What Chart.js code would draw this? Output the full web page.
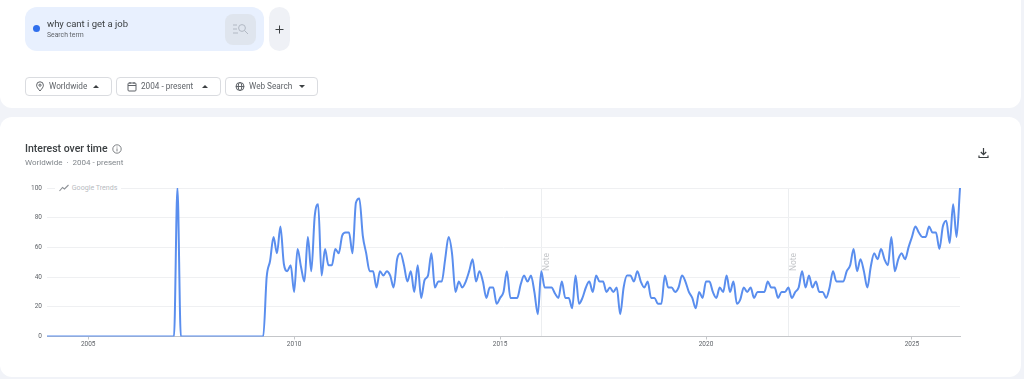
<!DOCTYPE html>
<html><head><meta charset="utf-8">
<script src="https://cdn.jsdelivr.net/npm/chart.js@4"></script>
<style>
html,body{margin:0;padding:0;width:1024px;height:379px;overflow:hidden;background:#f1f3f8;font-family:Roboto,"Noto Sans",sans-serif;color:#3c4043}
#page{position:absolute;left:0;top:0;width:1024px;height:379px;filter:blur(0.45px)}
.abs{position:absolute;white-space:nowrap}
.card{position:absolute;left:0;width:1021px;background:#fff}
.btn{position:absolute;top:77px;height:17px;background:#fff;border:1px solid #dadce0;border-radius:4px;font-size:8.2px;line-height:17px;color:#5f6368;box-sizing:content-box}
.btn svg{position:absolute;top:3px}
.btn span{position:absolute;top:0}
.tri{position:absolute;top:7px;width:0;height:0;border-left:3px solid transparent;border-right:3px solid transparent}
.up{border-bottom:3px solid #3c4043}.down{border-top:3px solid #3c4043}
#wrap{position:absolute;left:0;top:170px;width:1024px;height:185px}
</style></head><body><div id="page">
<div class="card" style="top:0;height:108px;border-radius:0 0 12px 12px"></div>
<div class="card" style="top:117px;height:260px;border-radius:12px"></div>

<div class="abs" style="left:25px;top:7px;width:239px;height:44px;background:#e8f0fe;border-radius:12px"></div>
<div class="abs" style="left:33px;top:25px;width:7px;height:7px;border-radius:50%;background:#2f6fed"></div>
<div class="abs" style="left:47px;top:18px;font-size:9.5px;line-height:12px;color:#3c4043">why cant i get a job</div>
<div class="abs" style="left:47px;top:30px;font-size:6.8px;line-height:10px;color:#5f6368">Search term</div>
<div class="abs" style="left:225px;top:14px;width:31px;height:31px;border-radius:8px;background:#dfe5ee"></div>
<svg class="abs" style="left:232px;top:23px" width="18" height="13" viewBox="0 0 18 13" fill="none" stroke="#b2b9c4" stroke-width="1"><path d="M1 2h4M1 6h4M1 10h5"/><circle cx="10" cy="5" r="3.4"/><path d="M12.5 7.5l3.5 3.5"/></svg>
<div class="abs" style="left:269px;top:7px;width:21px;height:44px;background:#eff1f6;border-radius:11px"></div>
<svg class="abs" style="left:275px;top:25px" width="9" height="9" viewBox="0 0 9 9" stroke="#3c4043" stroke-width="1"><path d="M4.5 0.5v8M0.5 4.5h8"/></svg>

<div class="btn" style="left:25px;width:85px">
<svg style="left:9px" width="10" height="11" viewBox="0 0 10 11" fill="none" stroke="#5f6368" stroke-width="1"><path d="M5 10C3 7.6 1.6 6 1.6 4.2a3.4 3.4 0 0 1 6.8 0C8.4 6 7 7.6 5 10z"/><circle cx="5" cy="4.2" r="1.1"/></svg>
<span style="left:23px">Worldwide</span><i class="tri up" style="left:67px"></i></div>
<div class="btn" style="left:116px;width:103px">
<svg style="left:10px" width="10" height="11" viewBox="0 0 10 11" fill="none" stroke="#5f6368" stroke-width="1"><rect x="1" y="2" width="8" height="8" rx="1"/><path d="M1 4.5h8M3 1v2M7 1v2"/></svg>
<span style="left:24px">2004 - present</span><i class="tri up" style="left:85px"></i></div>
<div class="btn" style="left:225px;width:91px">
<svg style="left:9px" width="10" height="11" viewBox="0 0 10 11" fill="none" stroke="#5f6368" stroke-width="1"><circle cx="5" cy="5.5" r="4"/><ellipse cx="5" cy="5.5" rx="1.8" ry="4"/><path d="M1 5.5h8"/></svg>
<span style="left:23px">Web Search</span><i class="tri down" style="left:73px"></i></div>

<div class="abs" style="left:25px;top:142px;font-size:10.5px;line-height:14px;font-weight:500;color:#3c4043">Interest over time</div>
<svg class="abs" style="left:112px;top:144px" width="10" height="10" viewBox="0 0 10 10" fill="none" stroke="#5f6368" stroke-width=".8"><circle cx="5" cy="5" r="4.2"/><path d="M5 4.4v3M5 2.6v.9"/></svg>
<div class="abs" style="left:25px;top:157px;font-size:8px;line-height:11px;color:#80868b">Worldwide &nbsp;·&nbsp; 2004 - present</div>
<svg class="abs" style="left:978px;top:147px" width="11" height="12" viewBox="0 0 11 12" fill="none" stroke="#3c4043" stroke-width="1.2"><path d="M5.5 1v6.5M2.8 5l2.7 2.7L8.2 5M1 8.5V10.5h9V8.5"/></svg>

<div id="wrap"><canvas id="c" width="1024" height="185"></canvas></div>

<div class="abs" style="left:55px;top:182px;padding:0 4px;height:12px;background:#fff;font-size:7.1px;line-height:12px;color:#b8bbbf">
<svg style="vertical-align:-2px" width="11" height="8" viewBox="0 0 11 8" fill="none" stroke="#8e9297" stroke-width="1.1"><path d="M0.5 7L3.5 3.5 5.5 5 9.5 1"/></svg> Google Trends</div>
<div class="abs" style="left:536px;top:257px;font-size:8.5px;line-height:10px;color:#c4c6c9;transform:rotate(-90deg);transform-origin:center;width:20px;text-align:center;">Note</div>
<div class="abs" style="left:783px;top:257px;font-size:8.5px;line-height:10px;color:#c4c6c9;transform:rotate(-90deg);transform-origin:center;width:20px;text-align:center;">Note</div>
</div>
<script>
const startYear = 2004;
const yTicks = [0, 20, 40, 60, 80, 100];
const yearTicks = ["2005", "2010", "2015", "2020", "2025"];
const noteMonths = ["2016-01", "2022-01"];
const interest = [
 0,0,0,0,0,0,0,0,0,0,0,0,
 0,0,0,0,0,0,0,0,0,0,0,0,
 0,0,0,0,0,0,0,0,0,0,0,0,
 0,0,100,0,0,0,0,0,0,0,0,0,
 0,0,0,0,0,0,0,0,0,0,0,0,
 0,0,0,0,40,51,67,56,74,49,44,48,
 30,59,47,37,67,44,81,89,41,59,48,48,
 59,56,68,70,70,56,90,93,68,56,44,44,
 33,44,41,44,41,33,52,56,48,37,44,30,
 48,26,38,41,56,33,37,37,52,67,56,30,
 37,33,37,44,52,37,44,37,26,33,33,22,
 26,30,44,26,26,26,35,41,37,41,30,15,
 44,33,33,33,29,26,37,26,26,19,41,22,
 26,33,37,30,41,37,37,30,33,30,33,15,
 33,41,41,37,44,37,33,37,26,26,22,22,
 41,33,33,30,33,41,37,30,26,19,30,26,
 37,37,30,26,33,30,41,30,37,22,25,33,
 30,33,26,30,30,30,37,33,33,26,30,30,
 33,26,30,33,44,33,41,33,37,30,30,26,
 33,44,37,37,37,44,48,59,44,52,44,33,
 47,56,52,59,52,48,67,44,52,56,52,60,
 67,74,70,67,67,74,70,70,59,74,78,63,
 89,67,100
];
const months = interest.map((_, i) => {
  const y = startYear + Math.floor(i / 12);
  const m = String(i % 12 + 1).padStart(2, "0");
  return y + "-" + m;
});
const yearOf = l => l.slice(0, 4);
const isYearTick = l => l.endsWith("-01") && yearTicks.includes(yearOf(l));
const isNote = l => noteMonths.includes(l);

new Chart(document.getElementById("c"), {
  type: "line",
  data: { labels: months, datasets: [{
    label: "why cant i get a job",
    data: interest,
    borderColor: "#5a8eee",
    borderWidth: 2,
    pointRadius: 0,
    fill: false,
    cubicInterpolationMode: "monotone"
  }]},
  options: {
    responsive: false,
    animation: false,
    layout: { padding: { top: 18, right: 64, left: 0, bottom: 0 } },
    plugins: { legend: { display: false }, tooltip: { enabled: false } },
    scales: {
      x: {
        type: "category",
        offset: false,
        afterFit: s => { s.height = 18.5; },
        border: { color: "#c4c6c9", width: 1 },
        grid: {
          drawOnChartArea: true,
          tickLength: 3,
          color: c => c.tick && isNote(months[c.tick.value]) ? "#eceef0" : "rgba(0,0,0,0)",
          tickColor: c => c.tick && isYearTick(months[c.tick.value]) ? "#c4c6c9" : "rgba(0,0,0,0)"
        },
        ticks: {
          autoSkip: false, maxRotation: 0, padding: 1,
          color: "#5f6368", font: { family: "Roboto", size: 6.5 },
          callback: function (v) { const l = months[v]; return isYearTick(l) ? yearOf(l) : ""; }
        }
      },
      y: {
        min: 0, max: 100,
        afterFit: s => { s.width = 47; },
        afterBuildTicks: s => { s.ticks = yTicks.map(v => ({ value: v })); },
        border: { display: false },
        grid: { color: c => c.tick && c.tick.value === 0 ? "rgba(0,0,0,0)" : "#eff0f2", tickLength: 0 },
        ticks: { padding: 5, color: "#5f6368", font: { family: "Roboto", size: 6.5 } }
      }
    }
  }
});
</script>
</body></html>
